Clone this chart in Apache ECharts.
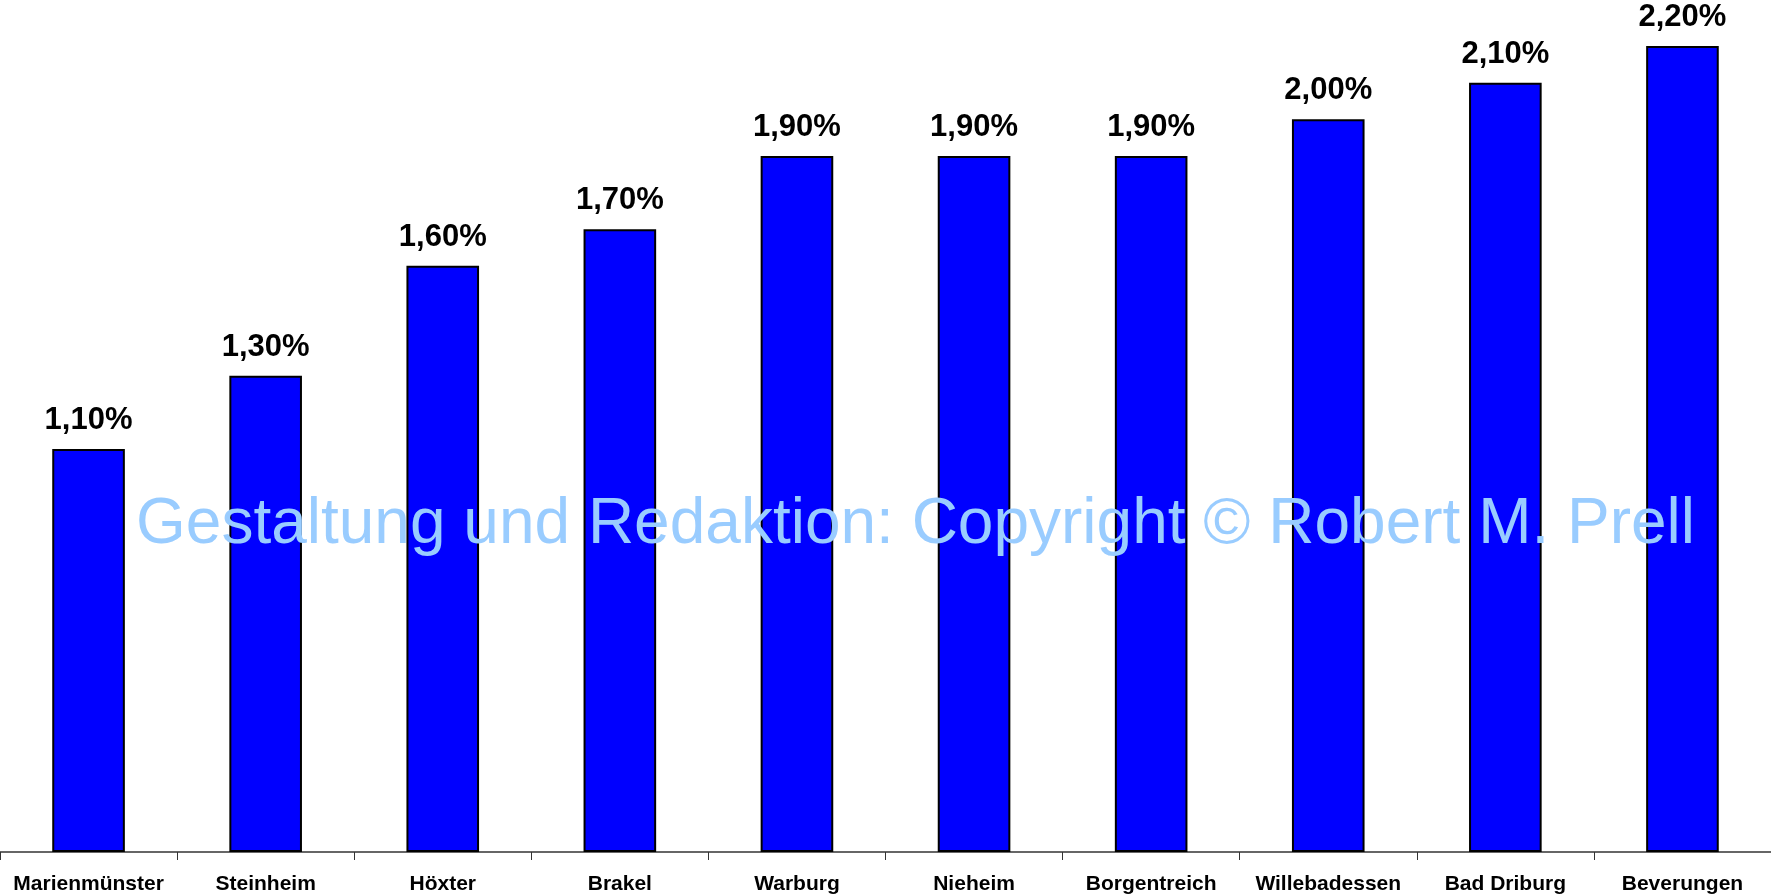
<!DOCTYPE html>
<html><head><meta charset="utf-8">
<script src="https://cdn.jsdelivr.net/npm/echarts@6/dist/echarts.min.js"></script>
<style>html,body{margin:0;padding:0;background:#fff}#c{width:1771px;height:896px}</style>
</head><body><div id="c"></div>
<script>
const categories = ['Marienmünster','Steinheim','Höxter','Brakel','Warburg','Nieheim','Borgentreich','Willebadessen','Bad Driburg','Beverungen'];
const values = [1.10,1.30,1.60,1.70,1.90,1.90,1.90,2.00,2.10,2.20];
const watermark = 'Gestaltung und Redaktion: Copyright © Robert M. Prell';
const chart = echarts.init(document.getElementById('c'));
chart.setOption({
  animation:false,
  grid:{left:0,right:0,top:46,bottom:44,containLabel:false},
  xAxis:{type:'category',data:categories,
    axisLine:{lineStyle:{color:'#333',width:1.5}},
    axisTick:{show:true,length:8,lineStyle:{color:'#333'}},
    axisLabel:{interval:0,margin:22,color:'#000',fontWeight:'bold',fontSize:21,fontFamily:'Liberation Sans, Arial, sans-serif'}},
  yAxis:{type:'value',min:0,max:2.2,show:false,splitLine:{show:false}},
  series:[{type:'bar',data:values,barWidth:'41%',
    itemStyle:{color:'#0000ff',borderColor:'#000',borderWidth:2},
    label:{show:true,position:'top',distance:13,color:'#000',fontWeight:'bold',fontSize:31,fontFamily:'Liberation Sans, Arial, sans-serif',
      formatter:p=>p.value.toFixed(2).replace('.',',')+'%'}}],
  graphic:[{type:'text',left:136,top:493,z:100,
    style:{text:watermark,fill:'#99ccff',font:'64px "Liberation Sans", Arial, sans-serif'}}]
});
</script></body></html>
